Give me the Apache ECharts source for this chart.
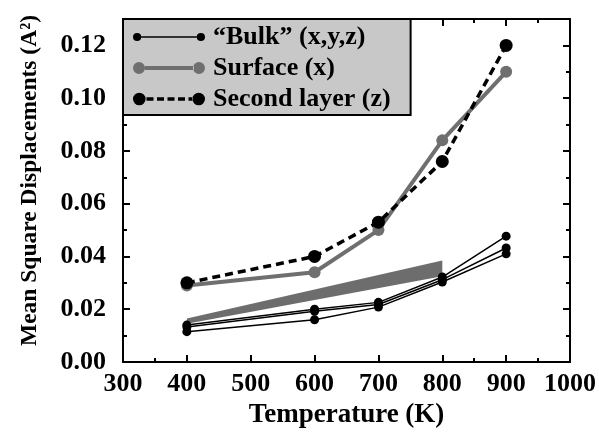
<!DOCTYPE html>
<html>
<head>
<meta charset="utf-8">
<script src="https://cdn.jsdelivr.net/npm/echarts@6/dist/echarts.min.js"></script>
<style>
html,body{margin:0;padding:0;background:#fff;}
#chart{width:599px;height:434px;}
</style>
</head>
<body>
<div id="chart"></div>
<script>
// ---- data ----
const temperatures = [400, 600, 700, 800, 900];
const bulkX = [0.0140, 0.0200, 0.0226, 0.0322, 0.0477];
const bulkY = [0.0133, 0.0192, 0.0218, 0.0312, 0.0432];
const bulkZ = [0.0115, 0.0160, 0.0208, 0.0303, 0.0410];
const surfaceX = [0.0290, 0.0340, 0.0500, 0.0840, 0.1100];
const secondLayerZ = [0.0300, 0.0400, 0.0530, 0.0760, 0.1200];
const wedgeT = [400, 800, 800, 400];
const wedgeV = [0.0165, 0.0385, 0.0325, 0.0145];
const xMajorTicks = [300, 400, 500, 600, 700, 800, 900, 1000];
const xMinorTicks = [350, 850, 950];
const yTicks = [0.00, 0.02, 0.04, 0.06, 0.08, 0.10, 0.12];
const seriesNames = ['\u201cBulk\u201d (x,y,z)', 'Surface (x)', 'Second layer (z)'];

const pairs = (xs, ys) => xs.map((x, i) => [x, ys[i]]);
const FONT = 'Liberation Serif';

const iconBulk = 'path://M2,7a4,4 0 1,0 8,0a4,4 0 1,0 -8,0Z M10,6.2H64V7.8H10Z M64,7a4,4 0 1,0 8,0a4,4 0 1,0 -8,0Z';
const iconSurface = 'path://M0,7a6,6 0 1,0 12,0a6,6 0 1,0 -12,0Z M12,5H61V9H12Z M60,7a6,6 0 1,0 12,0a6,6 0 1,0 -12,0Z';
const iconSecond = 'path://M0,7a6.3,6.3 0 1,0 12.6,0a6.3,6.3 0 1,0 -12.6,0Z M13.5,5.2H20.5V8.8H13.5Z M24,5.2H31V8.8H24Z M34.5,5.2H41.5V8.8H34.5Z M45,5.2H52V8.8H45Z M55.5,5.2H60V8.8H55.5Z M59.4,7a6.3,6.3 0 1,0 12.6,0a6.3,6.3 0 1,0 -12.6,0Z';

const chart = echarts.init(document.getElementById('chart'), null, {renderer: 'canvas'});

const baseX = {
  type: 'value', min: 300, max: 1000, interval: 100,
  splitLine: {show: false},
  axisLine: {show: true, onZero: false, lineStyle: {color: '#000', width: 2}},
  axisTick: {show: true, inside: true, length: 7, lineStyle: {color: '#000', width: 2}, customValues: xMajorTicks}
};
const minorX = {
  type: 'value', min: 300, max: 1000, interval: 100,
  splitLine: {show: false},
  axisLine: {show: false, onZero: false},
  axisLabel: {show: false},
  axisTick: {show: true, inside: true, length: 4, lineStyle: {color: '#000', width: 2}, customValues: xMinorTicks}
};
const baseY = {
  type: 'value', min: 0, max: 0.13, interval: 0.02,
  splitLine: {show: false},
  axisLine: {show: true, onZero: false, lineStyle: {color: '#000', width: 2}},
  axisTick: {show: true, inside: true, length: 7, lineStyle: {color: '#000', width: 2}},
  minorTick: {show: true, splitNumber: 2, length: 4, lineStyle: {color: '#000', width: 2}}
};

const option = {
  backgroundColor: '#fff',
  animation: false,
  grid: {left: 123, right: 28, top: 19, bottom: 72, containLabel: false},
  xAxis: [
    Object.assign({}, baseX, {
      position: 'bottom',
      name: 'Temperature (K)', nameLocation: 'middle', nameGap: 40,
      nameTextStyle: {fontFamily: FONT, fontWeight: 'bold', fontSize: 27, color: '#000'},
      axisLabel: {show: true, margin: 9, fontFamily: FONT, fontWeight: 'bold', fontSize: 26, color: '#000',
        customValues: xMajorTicks, formatter: v => String(v)}
    }),
    Object.assign({}, baseX, {position: 'top', axisLabel: {show: false}}),
    Object.assign({}, minorX, {position: 'bottom'}),
    Object.assign({}, minorX, {position: 'top'})
  ],
  yAxis: [
    Object.assign({}, baseY, {
      position: 'left',
      name: 'Mean Square Displacements (A\u00b2)', nameLocation: 'middle', nameGap: 81,
      nameTextStyle: {fontFamily: FONT, fontWeight: 'bold', fontSize: 23.5, color: '#000', padding: [0, 0, 0, 20]},
      axisLabel: {show: true, margin: 17, fontFamily: FONT, fontWeight: 'bold', fontSize: 26, color: '#000',
        customValues: yTicks, formatter: v => v.toFixed(2)}
    }),
    Object.assign({}, baseY, {position: 'right', axisLabel: {show: false}})
  ],
  legend: {
    orient: 'vertical', left: 123, top: 19,
    backgroundColor: '#c8c8c8', borderColor: '#000', borderWidth: 2, borderRadius: 0,
    padding: [5, 20, 3, 10],
    itemWidth: 72, itemHeight: 14, itemGap: 5,
    selectedMode: false,
    textStyle: {fontFamily: FONT, fontWeight: 'bold', fontSize: 26, color: '#000', padding: [0, 0, 0, 3]},
    data: [
      {name: seriesNames[0], icon: iconBulk, itemStyle: {color: '#000', borderWidth: 0}},
      {name: seriesNames[1], icon: iconSurface, itemStyle: {color: '#6f6f6f', borderWidth: 0}},
      {name: seriesNames[2], icon: iconSecond, itemStyle: {color: '#000', borderWidth: 0}}
    ]
  },
  series: [
    {
      type: 'custom', name: 'wedge', silent: true, z: 1,
      data: pairs(wedgeT, wedgeV),
      renderItem: function (params, api) {
        if (params.dataIndex !== 0) return null;
        const pts = wedgeT.map((t, i) => api.coord([t, wedgeV[i]]));
        return {type: 'polygon', shape: {points: pts}, style: {fill: '#6d6d6d', stroke: null}};
      }
    },
    {
      type: 'line', name: seriesNames[0], data: pairs(temperatures, bulkX), z: 3,
      symbol: 'circle', symbolSize: 9, color: '#000',
      lineStyle: {color: '#000', width: 1.5}, itemStyle: {color: '#000', borderWidth: 0}
    },
    {
      type: 'line', name: 'bulk-y', data: pairs(temperatures, bulkY), z: 3,
      symbol: 'circle', symbolSize: 9, color: '#000',
      lineStyle: {color: '#000', width: 1.5}, itemStyle: {color: '#000', borderWidth: 0}
    },
    {
      type: 'line', name: 'bulk-z', data: pairs(temperatures, bulkZ), z: 3,
      symbol: 'circle', symbolSize: 9, color: '#000',
      lineStyle: {color: '#000', width: 1.5}, itemStyle: {color: '#000', borderWidth: 0}
    },
    {
      type: 'line', name: seriesNames[1], data: pairs(temperatures, surfaceX), z: 4,
      symbol: 'circle', symbolSize: 12, color: '#6f6f6f',
      lineStyle: {color: '#6f6f6f', width: 4}, itemStyle: {color: '#6f6f6f', borderWidth: 0}
    },
    {
      type: 'line', name: seriesNames[2], data: pairs(temperatures, secondLayerZ), z: 5,
      symbol: 'circle', symbolSize: 13, color: '#000',
      lineStyle: {color: '#000', width: 3.5, type: [8, 5]}, itemStyle: {color: '#000', borderWidth: 0}
    }
  ]
};
chart.setOption(option);
</script>
</body>
</html>
